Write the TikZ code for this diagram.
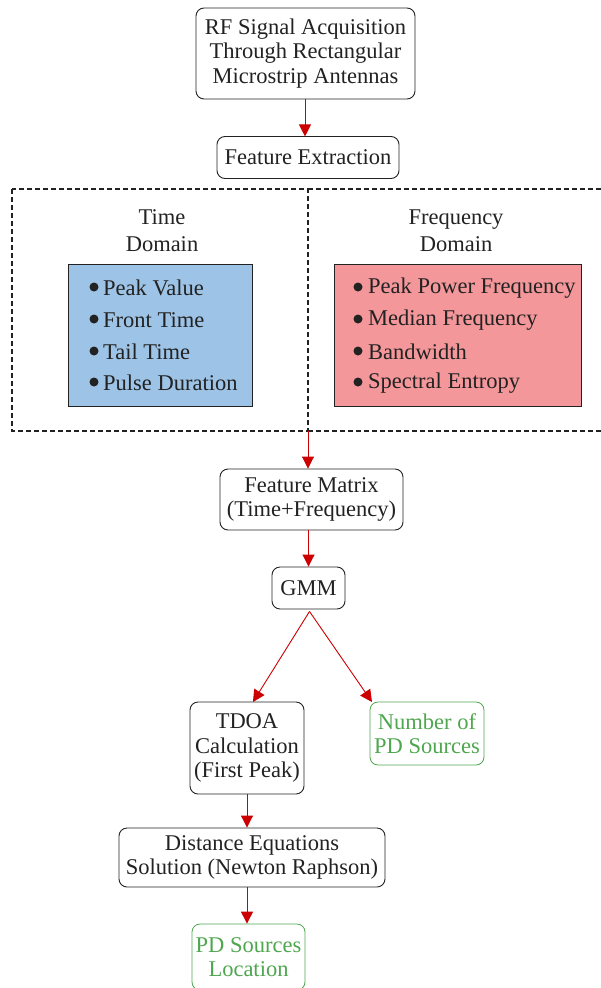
\documentclass[tikz,border=0pt]{standalone}
\usepackage{fontspec}
\setmainfont{Liberation Serif}
\usetikzlibrary{arrows.meta}
\definecolor{arrowred}{HTML}{CC0000}
\definecolor{timeblue}{HTML}{9DC3E6}
\definecolor{freqred}{HTML}{F4979A}
\definecolor{resgreen}{HTML}{4EA64E}
\definecolor{ink}{HTML}{222222}
\tikzset{
  x=1pt, y=-1pt,
  every node/.style={font=\fontsize{22.5}{24.5}\selectfont, text=ink, inner sep=0pt, align=center},
  stepbox/.style={draw=ink, line width=0.9pt, rounded corners=8pt},
  resultbox/.style={draw=resgreen, line width=0.8pt, rounded corners=8pt, text=resgreen},
  featbox/.style={draw=ink, line width=0.9pt},
  flow/.style={draw=arrowred, line width=0.9pt, -{Triangle[length=12pt,width=12pt]}},
  zone/.style={draw=ink, line width=1.6pt, dash pattern=on 5pt off 3pt},
  zonelabel/.style={font=\fontsize{22.5}{27}\selectfont},
  item/.style={anchor=west},
  dot/.style={fill=ink}
}
\begin{document}
\begin{tikzpicture}
\useasboundingbox (0,0) rectangle (601,988);

% processing chain
\node[stepbox, minimum width=219pt, minimum height=91pt] (acq) at (305.5,53.5)
  {RF Signal Acquisition\\Through Rectangular\\Microstrip Antennas};
\node[stepbox, minimum width=182pt, minimum height=42pt] (fext) at (308,157.5)
  {Feature Extraction};

% feature domains
\draw[zone] (12,189) rectangle (308,431);
\draw[zone] (308,189) -- (606,189);
\draw[zone] (308,431) -- (606,431);
\coordinate (zonebot) at (308,431);

\node[zonelabel] (tdlabel) at (162,230.5) {Time\\Domain};
\node[featbox, fill=timeblue, minimum width=184pt, minimum height=142pt] (tbox) at (160,335) {};
\foreach \t/\y [count=\i] in {Peak Value/287, Front Time/319, Tail Time/351, Pulse Duration/382} {
  \fill[dot] (94,\y) circle (4.5pt);
  \node[item] (ti\i) at (103,\y+1) {\t};
}

\node[zonelabel] (fdlabel) at (456,230.5) {Frequency\\Domain};
\node[featbox, fill=freqred, minimum width=247pt, minimum height=142pt] (fbox) at (457.5,335) {};
\foreach \t/\y [count=\i] in {Peak Power Frequency/287, Median Frequency/319, Bandwidth/351, Spectral Entropy/382} {
  \fill[dot] (358,\y) circle (4.5pt);
  \node[item] (fi\i) at (368,\y+1) {\t};
}

\node[stepbox, minimum width=183pt, minimum height=61pt] (fmat) at (311.5,499.5)
  {Feature Matrix\\(Time+Frequency)};
\node[stepbox, minimum width=73pt, minimum height=42pt] (gmm) at (308.5,588)
  {GMM};
\node[stepbox, minimum width=114pt, minimum height=92pt] (tdoa) at (247,748)
  {TDOA\\Calculation\\(First Peak)};
\node[resultbox, minimum width=114pt, minimum height=63pt] (npd) at (427,733.5)
  {Number of\\PD Sources};
\node[stepbox, minimum width=266pt, minimum height=59pt] (dist) at (252,857.5)
  {\raisebox{-2pt}{\parbox{266pt}{\centering Distance Equations\\Solution (Newton Raphson)}}};
\node[resultbox, minimum width=113pt, minimum height=66pt] (loc) at (248.5,957)
  {PD Sources\\Location};

% connectors
\draw[flow] (acq.south -| fext.north) ++(-3,0) -- ++(0,37);
\draw[flow] (zonebot) -- (zonebot |- fmat.north);
\draw[flow] (fmat.south -| gmm.north) -- (gmm.north);
\draw[flow] (gmm.south) ++(1,2) coordinate (gsplit) -- (253,702);
\draw[flow] (gsplit) -- (372,702);
\draw[flow] (tdoa.south) -- (tdoa.south |- dist.north);
\draw[flow] (tdoa.south |- dist.south) -- (tdoa.south |- loc.north);
\end{tikzpicture}
\end{document}
